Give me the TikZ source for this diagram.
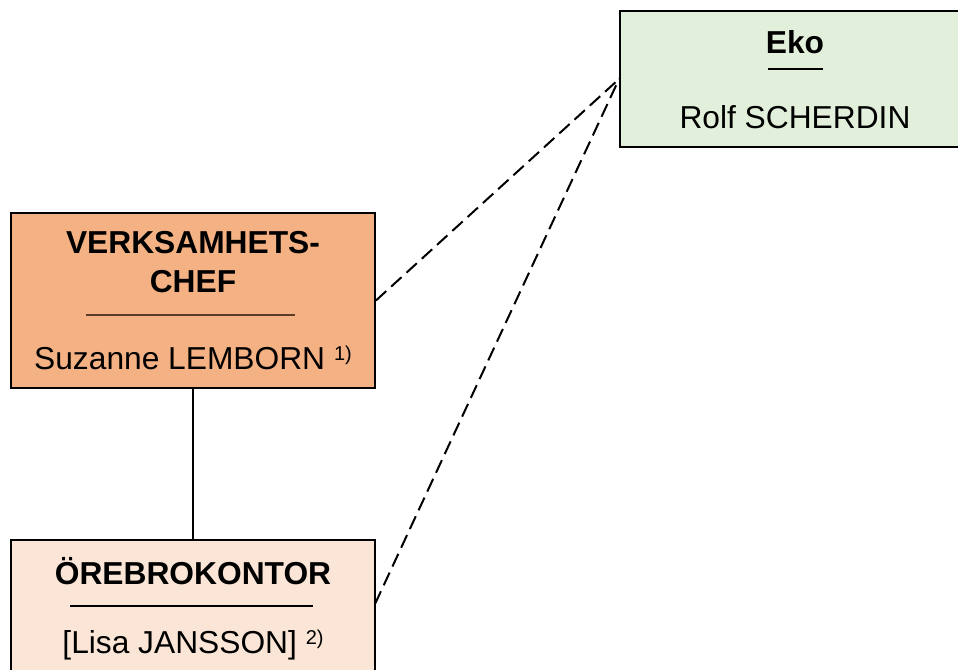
\documentclass[tikz,border=0pt]{standalone}
\usepackage{fontspec}
\setmainfont{Liberation Sans}
\definecolor{orangebox}{HTML}{F4B183}
\definecolor{peachbox}{HTML}{FBE5D6}
\definecolor{greenbox}{HTML}{E2EFDA}
\definecolor{sepbrown}{HTML}{5A3C28}
\tikzset{
  orgbox/.style={draw=black, line width=1.4pt, rectangle, inner sep=0pt},
  title/.style={font=\fontsize{23.8}{29}\selectfont\bfseries, inner sep=0pt, align=center},
  person/.style={font=\fontsize{23.8}{29}\selectfont, inner sep=0pt},
  sepline/.style={line width=0.9pt},
  dashlink/.style={line width=1.5pt, dash pattern=on 10.5pt off 5pt},
  solidlink/.style={line width=1.5pt}
}
\begin{document}
\begin{tikzpicture}[x=0.75pt, y=-0.75pt]
\useasboundingbox (0,0) rectangle (958,669);
\clip (0,0) rectangle (958,669);
% boxes
\node[orgbox, fill=greenbox, minimum width=350*0.75pt, minimum height=136*0.75pt] (eko) at (795,79) {};
\node[orgbox, fill=orangebox, minimum width=364*0.75pt, minimum height=175*0.75pt] (vc) at (193,300.5) {};
\node[orgbox, fill=peachbox, minimum width=364*0.75pt, minimum height=150*0.75pt] (ob) at (193,615) {};
% texts
\node[title] (ekot) at (795,42) {Eko};
\draw[sepline] (768,69) -- (823,69);
\node[person] (ekop) at (795,117.5) {Rolf SCHERDIN};
\node[title] (vct1) at (193,243) {VERKSAMHETS-};
\node[title] (vct2) at (193,282) {CHEF};
\draw[sepline, draw=sepbrown] (86,315) -- (295,315);
\node[person] (vcp) at (193,358) {Suzanne LEMBORN \raisebox{0.55ex}{\fontsize{15}{18}\selectfont 1)}};
\node[title] (obt) at (193,571) {ÖREBROKONTOR};
\draw[sepline] (70,606) -- (313,606);
\node[person] (obp) at (193,645) {[Lisa JANSSON] \raisebox{0.55ex}{\fontsize{15}{18}\selectfont 2)}};
% connectors
\coordinate (obe) at (375,604);
\draw[solidlink] (vc.south) -- (ob.north);
\draw[dashlink] (vc.east) -- (eko.west);
\draw[dashlink] (obe) -- (eko.west);
\end{tikzpicture}
\end{document}
